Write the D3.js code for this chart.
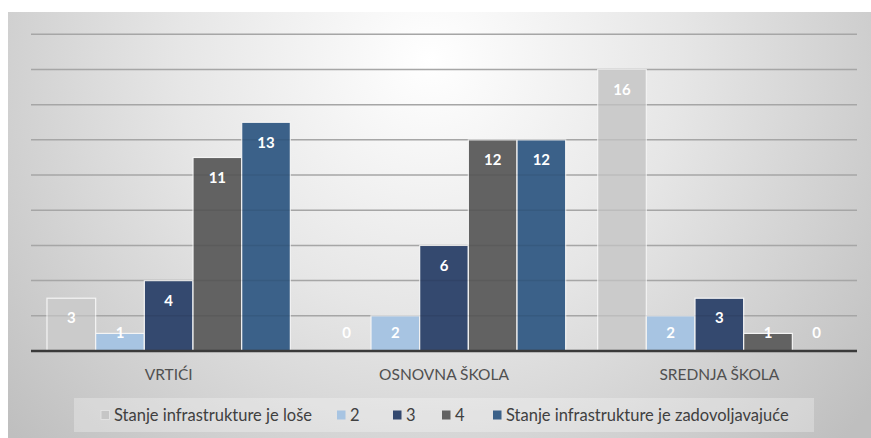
<!DOCTYPE html>
<html><head><meta charset="utf-8">
<script src="https://cdnjs.cloudflare.com/ajax/libs/d3/7.8.5/d3.min.js"></script>
<style>html,body{margin:0;padding:0;background:#fff;}svg{display:block;}</style>
</head><body>
<script>
const categories = ["VRTIĆI", "OSNOVNA ŠKOLA", "SREDNJA ŠKOLA"];
const seriesNames = ["Stanje infrastrukture je loše", "2", "3", "4", "Stanje infrastrukture je zadovoljavajuće"];
const loše = [3, 0, 16];
const s2 = [1, 2, 2];
const s3 = [4, 6, 3];
const s4 = [11, 12, 1];
const zadovoljavajuće = [13, 12, 0];
const seriesValues = [loše, s2, s3, s4, zadovoljavajuće];
const colors = ["#cbcbcb", "#a7c4e2", "#34496f", "#626262", "#3b6189"];
const yTicks = [0, 2, 4, 6, 8, 10, 12, 14, 16, 18];

const W = 871, H = 438;
const FONT = "Lato, 'Open Sans', sans-serif";
const svg = d3.select("body").append("svg").attr("width", W).attr("height", H);
const defs = svg.append("defs");
const rg = defs.append("radialGradient").attr("id", "bg")
  .attr("gradientUnits", "userSpaceOnUse")
  .attr("cx", 430).attr("cy", 60).attr("r", 560);
rg.append("stop").attr("offset", 0).attr("stop-color", "#ffffff");
rg.append("stop").attr("offset", 0.45).attr("stop-color", "#e6e6e6");
rg.append("stop").attr("offset", 1).attr("stop-color", "#bfbfbf");
svg.append("rect").attr("x", 8).attr("y", 12).attr("width", W - 8).attr("height", H - 12).attr("fill", "url(#bg)");

const left = 31, right = 857, base = 351;
const y = d3.scaleLinear().domain([0, 18]).range([base, 34.3]);
const x0 = d3.scaleBand().domain(categories).range([left, right]).paddingInner(0.116).paddingOuter(0.058);
const x1 = d3.scaleBand().domain(d3.range(seriesNames.length)).range([0, x0.bandwidth()]);

// gridlines
svg.append("g").selectAll("line").data(yTicks.filter(d => d > 0)).join("line")
  .attr("x1", left).attr("x2", right)
  .attr("y1", d => y(d)).attr("y2", d => y(d))
  .attr("stroke", "#b3b3b3").attr("stroke-width", 1.5);

// bars
const data = [];
categories.forEach((c, ci) => seriesValues.forEach((vals, si) => data.push({c, si, v: vals[ci]})));
svg.append("g").selectAll("rect").data(data.filter(d => d.v > 0)).join("rect")
  .attr("x", d => x0(d.c) + x1(d.si))
  .attr("y", d => y(d.v))
  .attr("width", x1.bandwidth())
  .attr("height", d => base - y(d.v))
  .attr("fill", d => colors[d.si])
  .attr("stroke", "#f4f4f4").attr("stroke-width", 1.2);

// faint gridlines over bars
svg.append("g").selectAll("line").data(yTicks.filter(d => d > 0)).join("line")
  .attr("x1", left).attr("x2", right)
  .attr("y1", d => y(d)).attr("y2", d => y(d))
  .attr("stroke", "rgba(0,0,0,0.07)").attr("stroke-width", 1.5);

// baseline axis
const xAxis = svg.append("g").attr("transform", `translate(0,${base})`)
  .call(d3.axisBottom(x0).tickSize(0).tickPadding(18));
xAxis.select(".domain").attr("stroke", "#3a3a3a").attr("stroke-width", 2.5)
  .attr("d", `M${left},0H${right}`);
xAxis.selectAll("text").attr("font-family", FONT)
  .attr("font-size", 15.5).attr("fill", "#505050");

// data labels
svg.append("g").selectAll("text").data(data).join("text")
  .attr("x", d => x0(d.c) + x1(d.si) + x1.bandwidth() / 2)
  .attr("y", d => Math.min(y(d.v) + 20, base - 18))
  .attr("dy", "0.35em")
  .attr("text-anchor", "middle")
  .attr("font-family", FONT)
  .attr("font-weight", "bold").attr("font-size", 15)
  .attr("fill", "#ffffff")
  .text(d => d.v);

// legend
svg.append("rect").attr("x", 74).attr("y", 398).attr("width", 740).attr("height", 34)
  .attr("fill", "rgba(255,255,255,0.28)");
const legendX = [101, 337, 393, 442, 493];
const lg = svg.append("g").selectAll("g").data(seriesNames).join("g")
  .attr("transform", (d, i) => `translate(${legendX[i]},415)`);
lg.append("rect").attr("x", 0).attr("y", -4.5).attr("width", 8.5).attr("height", 9)
  .attr("fill", (d, i) => i === 0 ? "#c6c6c6" : colors[i])
  .attr("stroke", (d, i) => i === 0 ? "#e6e6e6" : "none").attr("stroke-width", 0.8);
lg.append("text").attr("x", 13).attr("dy", "0.35em")
  .attr("font-family", FONT)
  .attr("font-size", 16.5).attr("fill", "#404040")
  .text(d => d);
</script>
</body></html>
